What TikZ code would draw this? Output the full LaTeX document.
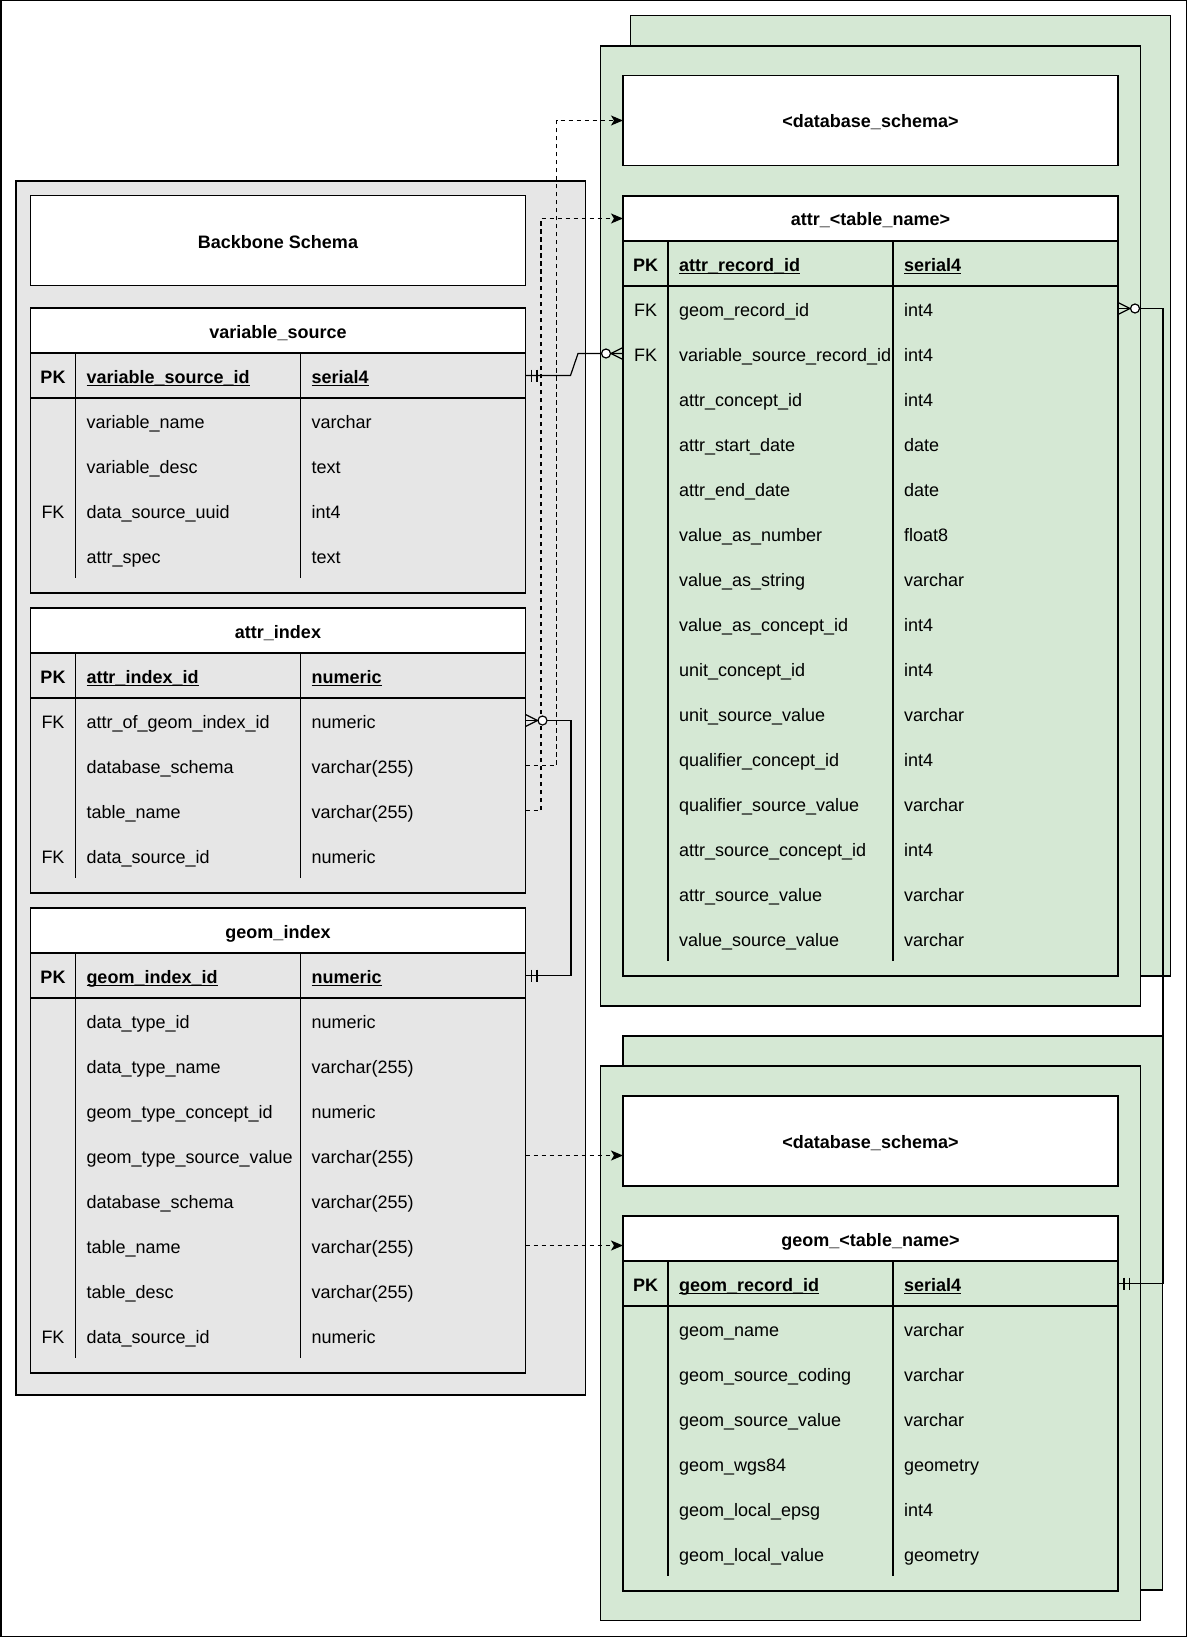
\documentclass[tikz,border=0pt]{standalone}
\usepackage{fontspec}
\setmainfont{Liberation Sans}
\usetikzlibrary{arrows.meta}
\definecolor{grayfill}{HTML}{E6E6E6}
\definecolor{greenfill}{HTML}{D5E8D4}
\newcommand\erfont{\fontsize{18}{22}\selectfont}
\newcommand\erul[1]{\setbox0\hbox{#1}\rlap{\rule[-3pt]{\wd0}{1.4pt}}\box0}
\newcommand{\ertable}[8]{%
  \pgfmathsetmacro\erR{#2+495}%
  \pgfmathsetmacro\erD{#3+90+45*#7}%
  \pgfmathsetmacro\erB{\erD+15}%
  \draw (#2,#3) rectangle (\erR,\erB);
  \node[rowbox, draw, fill=white, anchor=north west] (#1-title) at (#2,#3) {};
  \node[anchor=base, font=\erfont\bfseries] at ([yshift=-7.5pt]#1-title.center) {#4};
  \node[rowbox, anchor=north west] (#1-pk) at (#2,#3+45) {};
  \draw (#2,#3+90) -- (\erR,#3+90);
  \draw (#2+45,#3+45) -- (#2+45,\erD);
  \draw (#2+270,#3+45) -- (#2+270,\erD);
  \node[anchor=base, font=\erfont\bfseries] at ([xshift=22.5pt,yshift=-7.5pt]#1-pk.west) {PK};
  \node[anchor=base west, font=\erfont\bfseries] at ([xshift=56pt,yshift=-7.5pt]#1-pk.west) {\erul{#5}};
  \node[anchor=base west, font=\erfont\bfseries] at ([xshift=281pt,yshift=-7.5pt]#1-pk.west) {\erul{#6}};
  \foreach \ek/\en/\et [count=\i] in {#8} {
    \node[rowbox, anchor=north west] (#1-r\i) at (#2,#3+45+45*\i) {};
    \node[anchor=base, font=\erfont] at ([xshift=22.5pt,yshift=-7.5pt]#1-r\i.west) {\ek};
    \node[anchor=base west, font=\erfont] at ([xshift=56pt,yshift=-7.5pt]#1-r\i.west) {\en};
    \node[anchor=base west, font=\erfont] at ([xshift=281pt,yshift=-7.5pt]#1-r\i.west) {\et};
  }
}
\tikzset{
  pics/mandone/.style={code={\draw (6,-6) -- (6,6) (11.5,-6) -- (11.5,6);}},
  pics/zeromany/.style={code={\draw (0,-6) -- (12,0) -- (0,6); \draw[fill=white] (17,0) circle[radius=4.5pt];}},
}
\begin{document}
\begin{tikzpicture}[x=1pt,y=-1pt, line width=1.2pt,
  every node/.style={inner sep=0pt, outer sep=0pt},
  rowbox/.style={minimum width=495pt, minimum height=45pt, inner sep=0pt, outer sep=0pt},
  boxnode/.style={draw, fill=white, minimum width=495pt, minimum height=90pt, anchor=north west},
  boxtext/.style={anchor=base, font=\erfont\bfseries},
  dashline/.style={line width=1.4pt, dash pattern=on 4.5pt off 3.5pt, -{Stealth[length=12pt,width=10pt,inset=3pt]}}]
\useasboundingbox (0,0) rectangle (1187,1637);
\draw[line width=1.5pt] (0.75,0.75) rectangle (1186.25,1636.25);

% backbone container
\filldraw[fill=grayfill] (16,181) rectangle (585.5,1395);
\node[boxnode] (backbone) at (30.5,195.5) {};
\node[boxtext] at ([yshift=-7.5pt]backbone.center) {Backbone Schema};

% green containers
\filldraw[fill=greenfill] (630.5,15.5) rectangle (1170.5,976);
\filldraw[fill=greenfill] (600.5,46) rectangle (1140.5,1006);
\filldraw[fill=greenfill] (623,1036) rectangle (1162.5,1590);
\filldraw[fill=greenfill] (600.5,1066) rectangle (1140.5,1620.5);
\node[boxnode] (dbs1) at (623,75.5) {};
\node[boxtext] at ([yshift=-7.5pt]dbs1.center) {<database\_schema>};
\node[boxnode] (dbs2) at (623,1096) {};
\node[boxtext] at ([yshift=-7.5pt]dbs2.center) {<database\_schema>};

% tables
\ertable{vs}{30.5}{308}{variable\_source}{variable\_source\_id}{serial4}{4}{%
  {}/variable\_name/varchar, {}/variable\_desc/text, FK/data\_source\_uuid/int4, {}/attr\_spec/text}
\ertable{ai}{30.5}{608}{attr\_index}{attr\_index\_id}{numeric}{4}{%
  FK/attr\_of\_geom\_index\_id/numeric, {}/database\_schema/varchar(255), {}/table\_name/varchar(255), FK/data\_source\_id/numeric}
\ertable{gi}{30.5}{908}{geom\_index}{geom\_index\_id}{numeric}{8}{%
  {}/data\_type\_id/numeric, {}/data\_type\_name/varchar(255), {}/geom\_type\_concept\_id/numeric,
  {}/geom\_type\_source\_value/varchar(255), {}/database\_schema/varchar(255), {}/table\_name/varchar(255),
  {}/table\_desc/varchar(255), FK/data\_source\_id/numeric}
\ertable{at}{623}{196}{attr\_<table\_name>}{attr\_record\_id}{serial4}{15}{%
  FK/geom\_record\_id/int4, FK/variable\_source\_record\_id/int4, {}/attr\_concept\_id/int4,
  {}/attr\_start\_date/date, {}/attr\_end\_date/date, {}/value\_as\_number/float8,
  {}/value\_as\_string/varchar, {}/value\_as\_concept\_id/int4, {}/unit\_concept\_id/int4,
  {}/unit\_source\_value/varchar, {}/qualifier\_concept\_id/int4, {}/qualifier\_source\_value/varchar,
  {}/attr\_source\_concept\_id/int4, {}/attr\_source\_value/varchar, {}/value\_source\_value/varchar}
\ertable{gt}{623}{1216}{geom\_<table\_name>}{geom\_record\_id}{serial4}{6}{%
  {}/geom\_name/varchar, {}/geom\_source\_coding/varchar, {}/geom\_source\_value/varchar,
  {}/geom\_wgs84/geometry, {}/geom\_local\_epsg/int4, {}/geom\_local\_value/geometry}

% dashed references
\draw[dashline] (ai-r2.east) -- ++(31,0) |- (dbs1.west);
\draw[dashline] (ai-r3.east) -- ++(15.5,0) |- (at-title.west);
\draw[dashline] (gi-r4.east) -- (gi-r4.east -| dbs2.west);
\draw[dashline] (gi-r6.east) -- (gi-r6.east -| gt-title.west);

% relationships
\draw (vs-pk.east) -- ++(45,0) -- ([xshift=-45pt]at-r2.west) -- (at-r2.west);
\draw (ai-r1.east) -- ++(45.5,0) |- (gi-pk.east);
\draw (gt-pk.east) -- ++(45,0) |- (at-r1.east);
\pic at (vs-pk.east) {mandone};
\pic[rotate=180] at (at-r2.west) {zeromany};
\pic at (ai-r1.east) {zeromany};
\pic at (gi-pk.east) {mandone};
\pic at (gt-pk.east) {mandone};
\pic at (at-r1.east) {zeromany};
\end{tikzpicture}
\end{document}
